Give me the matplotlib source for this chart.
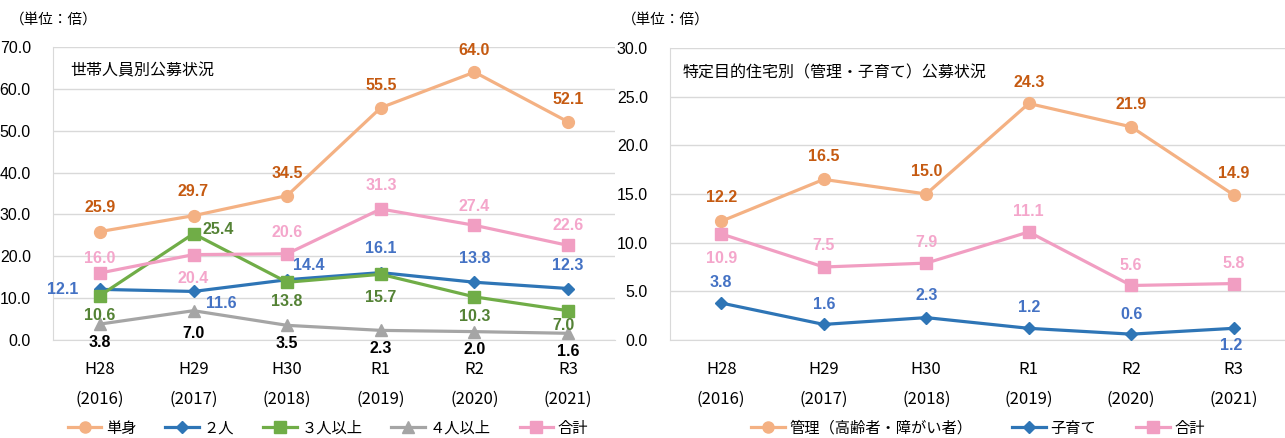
import matplotlib
matplotlib.use('Agg')
import matplotlib.pyplot as plt
from matplotlib.lines import Line2D

plt.rcParams['font.family'] = ['Noto Sans CJK JP', 'DejaVu Sans']

NUM_FONT = ['Liberation Sans Narrow', 'Liberation Sans', 'DejaVu Sans']

CATEGORIES = ['H28\n(2016)', 'H29\n(2017)', 'H30\n(2018)', 'R1\n(2019)', 'R2\n(2020)', 'R3\n(2021)']

# left chart: by household size
SINGLE = [25.9, 29.7, 34.5, 55.5, 64.0, 52.1]
TWO = [12.1, 11.6, 14.4, 16.1, 13.8, 12.3]
THREE_PLUS = [10.6, 25.4, 13.8, 15.7, 10.3, 7.0]
FOUR_PLUS = [3.8, 7.0, 3.5, 2.3, 2.0, 1.6]
TOTAL_L = [16.0, 20.4, 20.6, 31.3, 27.4, 22.6]

# right chart: special-purpose housing
KANRI = [12.2, 16.5, 15.0, 24.3, 21.9, 14.9]
KOSODATE = [3.8, 1.6, 2.3, 1.2, 0.6, 1.2]
TOTAL_R = [10.9, 7.5, 7.9, 11.1, 5.6, 5.8]

ORANGE = '#F4B183'
ORANGE_TXT = '#C55A11'
BLUE = '#2E75B6'
BLUE_TXT = '#4472C4'
GREEN = '#70AD47'
GREEN_TXT = '#548235'
GRAY = '#A5A5A5'
PINK = '#F19EC2'
PINK_TXT = '#F4A6CB'
GRID = '#D9D9D9'


def setup_axes(ax, ymax, step):
    ax.set_xlim(-0.5, len(CATEGORIES) - 0.5)
    ax.set_ylim(0, ymax)
    ax.set_yticks([i * step for i in range(int(ymax / step) + 1)])
    ax.set_yticklabels(['%.1f' % (i * step) for i in range(int(ymax / step) + 1)],
                       family=NUM_FONT, fontsize=11.5)
    ax.set_xticks(range(len(CATEGORIES)))
    ax.set_xticklabels(CATEGORIES, fontsize=12, linespacing=2.0)
    ax.tick_params(length=0)
    ax.tick_params(axis='x', pad=15)
    ax.tick_params(axis='y', pad=16)
    ax.grid(axis='y', color=GRID, linewidth=1)
    ax.set_axisbelow(True)
    for s in ['top', 'right']:
        ax.spines[s].set_visible(False)
    for s in ['left', 'bottom']:
        ax.spines[s].set_color(GRID)


def plot_series(ax, vals, color, marker, ms, txt_color, offsets):
    x = range(len(vals))
    ax.plot(x, vals, color=color, marker=marker, markersize=ms, linewidth=2.3, zorder=3)
    for i, v in enumerate(vals):
        dx, dy = offsets[i]
        ax.annotate('%.1f' % v, (i, v), xytext=(dx, dy), textcoords='offset pixels',
                    ha='center', va='center', color=txt_color, fontsize=11.5,
                    fontweight='bold', family=NUM_FONT, zorder=4)


fig = plt.figure(figsize=(12.85, 4.38), dpi=100)

# ---- left chart ----
ax1 = fig.add_axes([53 / 1285, 1 - 340 / 438, 562 / 1285, 293 / 438])
setup_axes(ax1, 70, 10)
plot_series(ax1, SINGLE, ORANGE, 'o', 8.5, ORANGE_TXT, [(0, 24)] * 2 + [(0, 22)] * 4)
plot_series(ax1, TWO, BLUE, 'D', 6.5, BLUE_TXT,
            [(-37, 0), (28, -12), (22, 14), (0, 24), (0, 24), (0, 23)])
plot_series(ax1, THREE_PLUS, GREEN, 's', 9, GREEN_TXT,
            [(0, -20), (25, 4), (0, -19), (0, -23), (0, -20), (-5, -15)])
plot_series(ax1, FOUR_PLUS, GRAY, '^', 9, 'black', [(0, -18), (0, -23)] + [(0, -18)] * 4)
plot_series(ax1, TOTAL_L, PINK, 's', 9, PINK_TXT,
            [(0, 15), (0, -24), (0, 21), (0, 23), (0, 19), (0, 20)])
ax1.text(0.03, 0.92, '世帯人員別公募状況', transform=ax1.transAxes, fontsize=11.5,
         ha='left', va='center')
fig.text(10 / 1285, 1 - 20 / 438, '（単位：倍）', fontsize=10.5, ha='left', va='center')

leg1 = [Line2D([], [], color=ORANGE, marker='o', markersize=8, linewidth=2.3),
        Line2D([], [], color=BLUE, marker='D', markersize=6, linewidth=2.3),
        Line2D([], [], color=GREEN, marker='s', markersize=8, linewidth=2.3),
        Line2D([], [], color=GRAY, marker='^', markersize=8, linewidth=2.3),
        Line2D([], [], color=PINK, marker='s', markersize=8, linewidth=2.3)]
fig.legend(leg1, ['単身', '２人', '３人以上', '４人以上', '合計'], loc='center',
           bbox_to_anchor=(328 / 1285, 1 - 428 / 438), ncol=5, frameon=False,
           fontsize=11, handlelength=2.2, handletextpad=0.3, columnspacing=1.9)

# ---- right chart ----
ax2 = fig.add_axes([670 / 1285, 1 - 340 / 438, 615 / 1285, 292 / 438])
setup_axes(ax2, 30, 5)
plot_series(ax2, KANRI, ORANGE, 'o', 8.5, ORANGE_TXT,
            [(0, 24), (0, 23), (0, 22), (0, 21), (0, 22), (0, 21)])
plot_series(ax2, KOSODATE, BLUE, 'D', 6.5, BLUE_TXT,
            [(0, 21), (0, 20), (0, 22), (0, 21), (0, 20), (-3, -17)])
plot_series(ax2, TOTAL_R, PINK, 's', 9, PINK_TXT,
            [(0, -25), (0, 21), (0, 21), (0, 20), (0, 20), (0, 20)])
ax2.text(0.02, 0.915, '特定目的住宅別（管理・子育て）公募状況', transform=ax2.transAxes,
         fontsize=11.5, ha='left', va='center')
fig.text(622 / 1285, 1 - 20 / 438, '（単位：倍）', fontsize=10.5, ha='left', va='center')

leg2 = [Line2D([], [], color=ORANGE, marker='o', markersize=8, linewidth=2.3),
        Line2D([], [], color=BLUE, marker='D', markersize=6, linewidth=2.3),
        Line2D([], [], color=PINK, marker='s', markersize=8, linewidth=2.3)]
fig.legend(leg2, ['管理（高齢者・障がい者）', '子育て', '合計'], loc='center',
           bbox_to_anchor=(978 / 1285, 1 - 428 / 438), ncol=3, frameon=False,
           fontsize=11, handlelength=2.2, handletextpad=0.3, columnspacing=2.6)

fig.savefig('out.png', dpi=100)
